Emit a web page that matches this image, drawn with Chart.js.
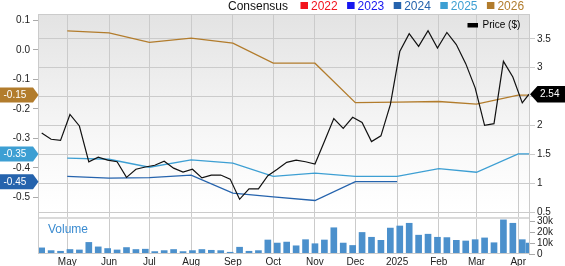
<!DOCTYPE html>
<html><head><meta charset="utf-8">
<script src="https://cdn.jsdelivr.net/npm/chart.js@4.4.1/dist/chart.umd.min.js"></script>
<style>
html,body{margin:0;padding:0;background:#fff;}
#wrap{position:relative;width:565px;height:266px;overflow:hidden;}
canvas{position:absolute;left:0;top:0;}
</style></head><body>
<div id="wrap"><canvas id="vol" width="565" height="266"></canvas><canvas id="main" width="565" height="266"></canvas></div>
<script>
// ---- data ----
const dates = ['2024-04-12','2024-04-19','2024-04-26','2024-05-03','2024-05-10','2024-05-17','2024-05-24','2024-05-31',
  '2024-06-07','2024-06-14','2024-06-21','2024-06-28','2024-07-05','2024-07-12','2024-07-19','2024-07-26',
  '2024-08-02','2024-08-09','2024-08-16','2024-08-23','2024-08-30','2024-09-06','2024-09-13','2024-09-20','2024-09-27',
  '2024-10-04','2024-10-11','2024-10-18','2024-10-25','2024-11-01','2024-11-08','2024-11-15','2024-11-22','2024-11-29',
  '2024-12-06','2024-12-13','2024-12-20','2024-12-27','2025-01-03','2025-01-10','2025-01-17','2025-01-24','2025-01-31',
  '2025-02-07','2025-02-14','2025-02-21','2025-02-28','2025-03-07','2025-03-14','2025-03-21','2025-03-28','2025-04-04','2025-04-09'];
const price = [1.87,1.76,1.74,2.19,1.99,1.37,1.45,1.40,1.37,1.10,1.24,1.28,1.31,1.38,1.26,1.19,1.24,1.09,1.14,1.14,
  1.07,0.72,0.90,0.90,1.13,1.24,1.36,1.40,1.37,1.33,1.72,2.12,1.95,2.14,2.05,1.72,1.82,2.36,3.28,3.59,
  3.37,3.64,3.34,3.61,3.40,3.07,2.65,2.00,2.03,3.11,2.84,2.39,2.54];
const volume = [5600,3100,2500,4100,3700,10600,6500,5000,3700,5900,4100,4400,2200,3100,4100,2200,3100,4100,3400,3100,
  1600,6200,2500,3100,12800,10000,10900,7500,13100,9400,12800,24000,10000,7800,19700,15300,12500,23700,25600,28100,
  17200,18100,15300,15000,12500,11900,13100,14700,10300,31200,28100,13100,10000];
const epsDates = ['2024-05-01','2024-06-01','2024-07-01','2024-08-01','2024-09-01','2024-10-01','2024-11-01',
  '2024-12-01','2025-01-01','2025-02-01','2025-03-01','2025-04-01','2025-04-09'];
const eps2024 = [-0.429,-0.435,-0.433,-0.425,-0.486,-0.499,-0.511,-0.447,-0.447];
const eps2025 = [-0.367,-0.371,-0.398,-0.373,-0.384,-0.429,-0.418,-0.429,-0.429,-0.403,-0.415,-0.353,-0.353];
const eps2026 = [0.065,0.058,0.026,0.040,0.023,-0.045,-0.045,-0.179,-0.177,-0.175,-0.184,-0.153,-0.153];
const legendYears = ['2022','2023','2024','2025','2026'];
const legendColors = ['#f2141c','#1616f0','#2563ad','#3d9fd3','#b27c2c'];
const monthTicks = ['2024-05-01','2024-06-01','2024-07-01','2024-08-01','2024-09-01','2024-10-01','2024-11-01',
  '2024-12-01','2025-01-01','2025-02-01','2025-03-01','2025-04-01'];
const monthLabels = ['May','Jun','Jul','Aug','Sep','Oct','Nov','Dec','2025','Feb','Mar','Apr'];
const epsTicks = [-0.5,-0.4,-0.3,-0.2,-0.1,0,0.1];
const priceTicks = [0.5,1,1.5,2,2.5,3,3.5];
const volTicks = [0,10000,20000,30000];
const xStart = '2024-04-10', xEnd = '2025-04-09';

// ---- helpers ----
const BASE = Date.parse('2024-05-01T00:00:00Z');
const toDay = s => (Date.parse(s + 'T00:00:00Z') - BASE) / 864e5;
const FONT = '"Liberation Sans", Arial, Helvetica, sans-serif';
Chart.defaults.font.family = FONT;
Chart.defaults.font.size = 10;
Chart.defaults.color = '#222';
const GRID = '#cbcbcb';
const fix = (w, h) => s => {
  if (w !== null) s.width = w;
  if (h !== null) s.height = h;
  s.paddingTop = 0; s.paddingBottom = 0; s.paddingLeft = 0; s.paddingRight = 0;
};
const setTicks = arr => s => { s.ticks = arr.map(v => ({value: v})); };

const mainPlugin = {
  id: 'mainDeco',
  beforeDraw(chart) {
    const {ctx, chartArea: a} = chart;
    ctx.save();
    const g = ctx.createLinearGradient(0, a.top, 0, a.bottom);
    g.addColorStop(0, '#e3e3e3');
    g.addColorStop(0.65, '#f8f8f8');
    g.addColorStop(1, '#ffffff');
    ctx.fillStyle = g;
    ctx.fillRect(a.left, a.top, a.right - a.left, a.bottom - a.top);
    ctx.restore();
  },
  afterDraw(chart) {
    const {ctx, chartArea: a} = chart;
    ctx.save();
    // plot border
    ctx.strokeStyle = GRID; ctx.lineWidth = 1;
    ctx.strokeRect(Math.round(a.left) - 0.5, Math.round(a.top) + 0.5, Math.round(a.right - a.left) + 1, Math.round(a.bottom - a.top));
    // top legend
    ctx.font = '12px ' + FONT;
    ctx.textBaseline = 'alphabetic';
    ctx.fillStyle = '#111';
    ctx.fillText('Consensus', 228, 9.5);
    let x = 300.5;
    legendYears.forEach((y, i) => {
      ctx.fillStyle = legendColors[i];
      ctx.fillRect(x, 2, 7.5, 7);
      ctx.fillText(y, x + 10.5, 9.5);
      x += 46.6;
    });
    // price legend
    ctx.fillStyle = '#000';
    ctx.fillRect(467.5, 23, 10.5, 4.5);
    ctx.font = '10px ' + FONT;
    ctx.textBaseline = 'middle';
    ctx.fillText('Price ($)', 482.5, 25.5);
    // left tags for EPS series
    const ys = chart.scales.yEps;
    chart.data.datasets.forEach(ds => {
      if (ds.yAxisID !== 'yEps') return;
      const last = ds.data[ds.data.length - 1].y;
      const c = ys.getPixelForValue(last);
      ctx.fillStyle = ds.borderColor;
      ctx.beginPath();
      ctx.moveTo(0, c - 7.5); ctx.lineTo(33, c - 7.5); ctx.lineTo(38.5, c);
      ctx.lineTo(33, c + 7.5); ctx.lineTo(0, c + 7.5); ctx.closePath(); ctx.fill();
      ctx.fillStyle = '#fff';
      ctx.textAlign = 'left';
      ctx.fillText(last.toFixed(2), 3.5, c + 0.5);
    });
    // right tag for price
    const yp = chart.scales.yPrice;
    const lp = price[price.length - 1];
    const c = yp.getPixelForValue(lp);
    ctx.fillStyle = '#000';
    ctx.beginPath();
    ctx.moveTo(530, c); ctx.lineTo(537.5, c - 8.3); ctx.lineTo(565, c - 8.3);
    ctx.lineTo(565, c + 8.3); ctx.lineTo(537.5, c + 8.3); ctx.closePath(); ctx.fill();
    ctx.fillStyle = '#fff';
    ctx.fillText(lp.toFixed(2), 540, c + 0.5);
    ctx.restore();
  }
};

const xMin = toDay(xStart), xMax = toDay(xEnd);
const pts = (ds, vals) => vals.map((v, i) => ({x: toDay(ds[i]), y: v}));

new Chart(document.getElementById('main'), {
  type: 'line',
  data: {
    datasets: [
      {label: 'Price ($)', data: pts(dates, price), yAxisID: 'yPrice', borderColor: '#111', borderWidth: 1.2, pointRadius: 0, tension: 0},
      {label: '2026', data: pts(epsDates, eps2026), yAxisID: 'yEps', borderColor: legendColors[4], borderWidth: 1.3, pointRadius: 0},
      {label: '2025', data: pts(epsDates, eps2025), yAxisID: 'yEps', borderColor: legendColors[3], borderWidth: 1.3, pointRadius: 0},
      {label: '2024', data: pts(epsDates, eps2024), yAxisID: 'yEps', borderColor: legendColors[2], borderWidth: 1.3, pointRadius: 0}
    ]
  },
  options: {
    responsive: false, animation: false, devicePixelRatio: 1,
    layout: {padding: {top: 14, bottom: 44, left: 0, right: 0}},
    plugins: {legend: {display: false}, tooltip: {enabled: false}},
    scales: {
      x: {type: 'linear', min: xMin, max: xMax, offset: false, afterBuildTicks: setTicks(monthTicks.map(toDay)),
        ticks: {display: false}, grid: {color: GRID, drawTicks: false, offset: false}, border: {display: false}, afterFit: fix(null, 10)},
      yEps: {position: 'left', min: -0.55, max: 0.122, afterBuildTicks: setTicks(epsTicks),
        ticks: {callback: v => v.toFixed(1), padding: 3, color: '#222', autoSkip: false},
        grid: {drawOnChartArea: false, tickLength: 6, color: '#aaa'}, border: {display: false}, afterFit: fix(39, null)},
      yPrice: {position: 'right', min: 0.5, max: 3.93, afterBuildTicks: setTicks(priceTicks),
        ticks: {callback: v => String(v), padding: 2, color: '#222', autoSkip: false},
        grid: {color: GRID, tickLength: 6}, border: {display: false}, afterFit: fix(36, null)}
    }
  },
  plugins: [mainPlugin]
});

const volPlugin = {
  id: 'volDeco',
  afterDraw(chart) {
    const {ctx, chartArea: a} = chart;
    ctx.save();
    ctx.strokeStyle = '#dadada'; ctx.lineWidth = 2;
    ctx.beginPath(); ctx.moveTo(a.left, 218); ctx.lineTo(a.right, 218); ctx.stroke();
    ctx.strokeStyle = GRID; ctx.lineWidth = 1;
    ctx.beginPath();
    ctx.moveTo(Math.round(a.left) - 0.5, a.top); ctx.lineTo(Math.round(a.left) - 0.5, a.bottom);
    ctx.moveTo(Math.round(a.right) + 0.5, a.top); ctx.lineTo(Math.round(a.right) + 0.5, a.bottom);
    ctx.moveTo(a.left, Math.round(a.bottom) - 0.5); ctx.lineTo(a.right, Math.round(a.bottom) - 0.5);
    ctx.stroke();
    ctx.font = '12px ' + FONT;
    ctx.fillStyle = '#3a8bd0';
    ctx.textBaseline = 'middle';
    ctx.fillText('Volume', 48, 229.5);
    ctx.restore();
  }
};

new Chart(document.getElementById('vol'), {
  type: 'bar',
  data: {datasets: [{label: 'Volume', data: pts(dates, volume), yAxisID: 'yVol', backgroundColor: '#4b90cc', barThickness: 6}]},
  options: {
    responsive: false, animation: false, devicePixelRatio: 1,
    layout: {padding: {top: 212, bottom: 0, left: 39, right: 0}},
    plugins: {legend: {display: false}, tooltip: {enabled: false}},
    scales: {
      x: {type: 'linear', min: xMin, max: xMax, offset: false, afterBuildTicks: setTicks(monthTicks.map(toDay)),
        ticks: {callback: (v, i) => monthLabels[i], autoSkip: false, maxRotation: 0, padding: 2, color: '#222'},
        grid: {color: GRID, drawTicks: false, offset: false}, border: {display: false}, afterFit: fix(null, 12)},
      yVol: {position: 'right', min: 0, max: 38400, afterBuildTicks: setTicks(volTicks),
        ticks: {callback: v => v === 0 ? '0' : (v / 1000) + 'k', padding: 2, color: '#222', autoSkip: false},
        grid: {drawOnChartArea: false, tickLength: 6, color: '#aaa'}, border: {display: false}, afterFit: fix(36, null)}
    }
  },
  plugins: [volPlugin]
});
</script>
</body></html>
